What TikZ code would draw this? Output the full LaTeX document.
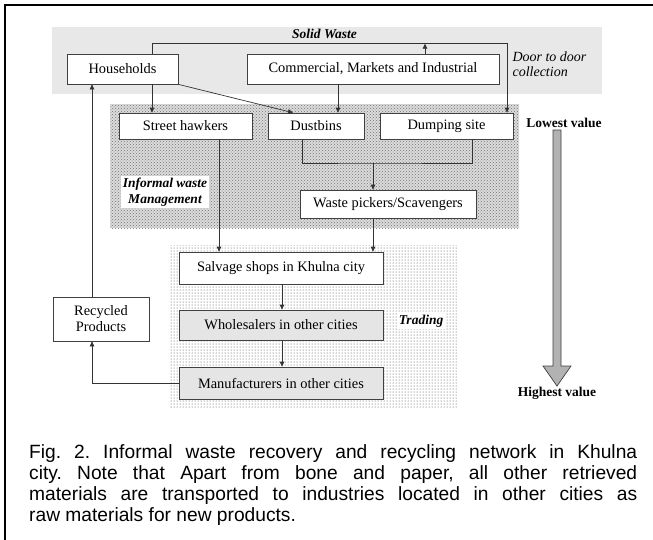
\documentclass[tikz,border=0pt]{standalone}
\usepackage{fontspec}
\setmainfont{Liberation Serif}
\newfontfamily\capfont{Liberation Sans}
\usetikzlibrary{patterns}
\usetikzlibrary{arrows.meta}

\begin{document}
\begin{tikzpicture}[x=1pt,y=-1pt,
    box/.style={draw=black!75,fill=white,line width=0.7pt,inner sep=0pt,align=center,font=\fontsize{14.4}{16}\selectfont},
    greybox/.style={box,fill=black!10},
    flow/.style={draw=black!80,line width=0.7pt,-{Triangle[length=5pt,width=4.5pt]}},
    link/.style={draw=black!80,line width=0.7pt},
    tag/.style={font=\fontsize{13.5}{16}\selectfont\bfseries\itshape}]

  \useasboundingbox (0,0) rectangle (653,539);
  \draw[line width=2.2pt] (5,545) -- (5,5) -- (660,5);

  % zones
  \fill[black!9] (52,27) rectangle (602,94);
  \fill[black!14] (110,104) rectangle (519,228);
  \fill[pattern=crosshatch dots,pattern color=black!55] (110,104) rectangle (519,228);
  \fill[pattern=dots,pattern color=black!75] (170,245) rectangle (458,407);

  \node[tag] (solid) at (324.5,34) {Solid Waste};
  \node[tag,fill=white,align=center,inner sep=2pt] (iwm) at (165,192) {Informal waste\\Management};
  \node[tag,fill=white,inner sep=2pt] (trade) at (421,321) {Trading};
  \node[anchor=west,align=left,font=\fontsize{14}{15}\selectfont\itshape] (door) at (509,64) {Door to door\\collection};

  % sources
  \node[box,minimum width=111pt,minimum height=30pt] (hh) at (122.5,69) {Households};
  \node[box,minimum width=252pt,minimum height=30pt] (cmi) at (373,69) {Commercial, Markets and Industrial};

  % informal
  \node[box,minimum width=133pt,minimum height=26pt] (sh) at (185.5,126) {Street hawkers};
  \node[box,minimum width=96pt,minimum height=26pt] (db) at (316,126) {Dustbins};
  \node[box,minimum width=133pt,minimum height=26pt] (ds) at (446.5,126) {Dumping site};
  \node[box,minimum width=176pt,minimum height=28pt] (wp) at (388,204) {Waste pickers/Scavengers};

  % trading
  \node[box,minimum width=204pt,minimum height=32pt] (ss) at (281,268) {Salvage shops in Khulna city};
  \node[greybox,minimum width=204pt,minimum height=30pt] (ws) at (281,325) {Wholesalers in other cities};
  \node[greybox,minimum width=204pt,minimum height=32pt] (mf) at (281,383) {Manufacturers in other cities};
  \node[box,minimum width=96pt,minimum height=44pt] (rp) at (101,319) {Recycled\\Products};

  % door to door collection
  \draw[flow] ([xshift=29.5pt]hh.north) -- ++(0,-10) -| ([xshift=60.5pt]ds.north);
  \draw[flow] ([xshift=52pt]cmi.north) -- ++(0,-10);

  \draw[flow] ([xshift=29.5pt]hh.south) -- ([xshift=-33.5pt]sh.north);
  \draw[flow] (hh.south east) -- ([xshift=-23pt]db.north);
  \draw[flow] ([xshift=-35pt]cmi.south) -- ([xshift=22pt]db.north);
  \draw[link] ([xshift=-14pt]db.south) |- (373,163) -| ([xshift=25.5pt]ds.south);
  \draw[flow] (373,163) -- ([xshift=-15pt]wp.north);

  \draw[flow] ([xshift=33.5pt]sh.south) -- ([xshift=-62pt]ss.north);
  \draw[flow] ([xshift=-15pt]wp.south) -- ([xshift=92pt]ss.north);
  \draw[flow] ([xshift=1pt]ss.south) -- ([xshift=1pt]ws.north);
  \draw[flow] ([xshift=1pt]ws.south) -- ([xshift=1pt]mf.north);
  \draw[flow] (mf.west) -| ([xshift=-9pt]rp.south);
  \draw[flow] ([xshift=-9pt]rp.north) -- ([xshift=-30.5pt]hh.south);

  % value scale
  \node[font=\fontsize{13.5}{16}\selectfont\bfseries] (low) at (564,123) {Lowest value};
  \node[font=\fontsize{13.5}{16}\selectfont\bfseries] (high) at (557,393) {Highest value};
  \draw[draw=black!75,fill=black!30,line width=0.7pt] (553,130) -- (561,130) -- (561,366) -- (571,366)
    -- (557,386) -- (543,366) -- (553,366) -- cycle;

  \node[anchor=north west,inner sep=0pt,text width=608pt,align=justify,
    font=\capfont\fontsize{19.2}{21.2}\selectfont\frenchspacing] (cap) at (29,444)
    {Fig. 2. Informal waste recovery and recycling network in Khulna\linebreak
     city. Note that Apart from bone and paper, all other retrieved\linebreak
     materials are transported to industries located in other cities as\linebreak
     raw materials for new products.};
\end{tikzpicture}
\end{document}
